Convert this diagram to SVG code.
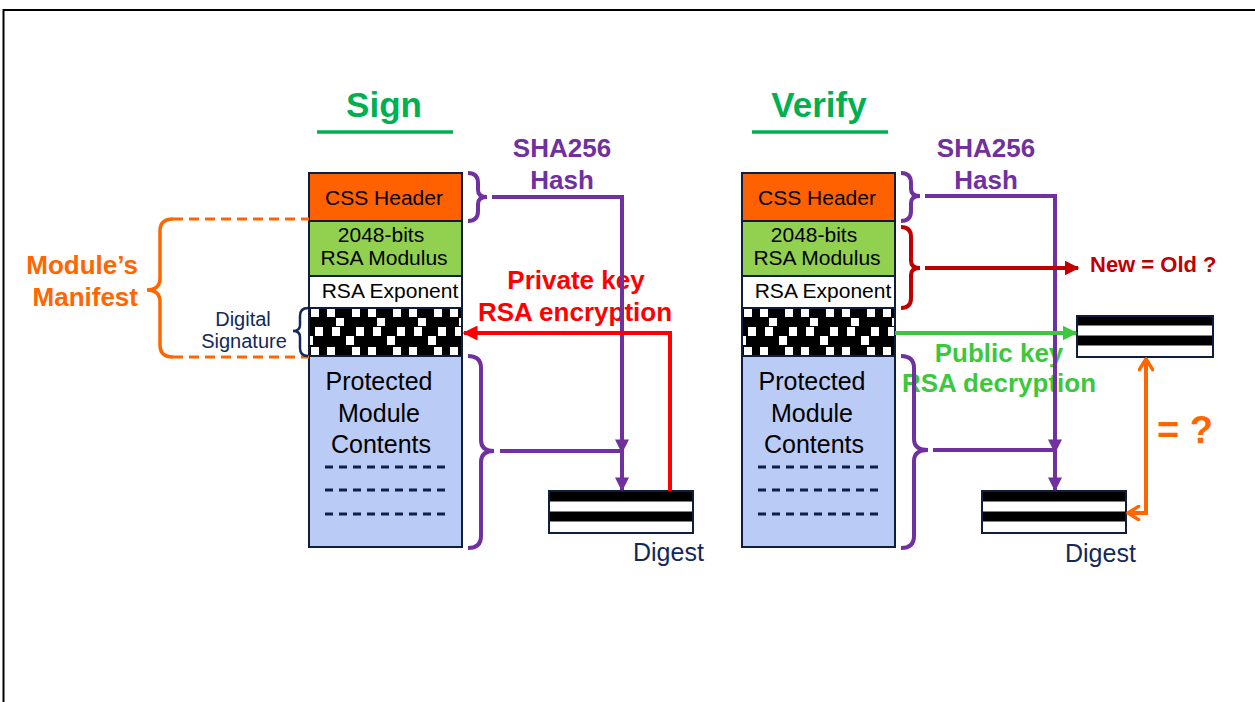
<svg xmlns="http://www.w3.org/2000/svg" width="1255" height="702" viewBox="0 0 1255 702">
  <style>
    text { font-family: "Liberation Sans", Arial, sans-serif; }
    .box { stroke: #0f1e3c; stroke-width: 2; }
    .lbl { font-size: 21px; fill: #000; text-anchor: middle; }
    .big { font-size: 25px; fill: #000; text-anchor: middle; }
    .bold { font-weight: bold; font-size: 26px; }
    .title { font-weight: bold; font-size: 35px; fill: #00b050; text-anchor: middle; }
    .uline { stroke: #00b050; stroke-width: 3.5; }
    .purple { fill: none; stroke: #7030a0; stroke-width: 4; }
    .dash { stroke: #0f1e4a; stroke-width: 3; stroke-dasharray: 8 6; }
    .navy { fill: #14285a; }
  </style>
  <defs>
    <!-- confetti fill for the signature blocks -->
    <pattern id="confetti" x="309" y="308" width="41" height="38" patternUnits="userSpaceOnUse">
      <rect width="41" height="38" fill="#000"/>
      <g fill="#fff">
        <rect x="2" y="1" width="8" height="8"/>
        <rect x="18" y="1" width="8" height="8"/>
        <rect x="27" y="10" width="8" height="8"/>
        <rect x="6" y="19" width="8" height="9"/>
        <rect x="23" y="19" width="8" height="9"/>
        <rect x="37" y="28" width="4" height="9"/>
        <rect x="0" y="28" width="4" height="9"/>
      </g>
    </pattern>
    <pattern id="confetti2" x="742" y="308" width="41" height="38" patternUnits="userSpaceOnUse" href="#confetti"/>
    <marker id="tri-purple" viewBox="0 0 10 10" refX="9" refY="5" markerWidth="14" markerHeight="14" markerUnits="userSpaceOnUse" orient="auto">
      <path d="M0 0 L10 5 L0 10 z" fill="#7030a0"/>
    </marker>
    <marker id="tri-red" viewBox="0 0 10 10" refX="9" refY="5" markerWidth="15" markerHeight="15" markerUnits="userSpaceOnUse" orient="auto">
      <path d="M0 0 L10 5 L0 10 z" fill="#ff0000"/>
    </marker>
    <marker id="tri-darkred" viewBox="0 0 10 10" refX="9" refY="5" markerWidth="15" markerHeight="15" markerUnits="userSpaceOnUse" orient="auto">
      <path d="M0 0 L10 5 L0 10 z" fill="#c00000"/>
    </marker>
    <marker id="tri-green" viewBox="0 0 10 10" refX="9" refY="5" markerWidth="15" markerHeight="15" markerUnits="userSpaceOnUse" orient="auto">
      <path d="M0 0 L10 5 L0 10 z" fill="#3cc83c"/>
    </marker>
    <marker id="open-orange" viewBox="0 0 12 12" refX="10" refY="6" markerWidth="16" markerHeight="16" markerUnits="userSpaceOnUse" orient="auto-start-reverse">
      <path d="M2 1 L10 6 L2 11" fill="none" stroke="#ff6600" stroke-width="2.6" stroke-linecap="round" stroke-linejoin="round"/>
    </marker>
  </defs>

  <rect width="1255" height="702" fill="#fff"/>
  <!-- frame edges -->
  <path d="M3.5 702 V10 H1255" fill="none" stroke="#000" stroke-width="2"/>

  <!-- Sign column -->
  <g id="sign-title">
    <text class="title" x="384" y="117">Sign</text>
    <line class="uline" x1="317" y1="132" x2="453" y2="132"/>
  </g>
  <g id="sign-css-header">
    <rect class="box" x="309" y="173" width="153" height="48" fill="#ff6100"/>
    <text class="lbl" x="384" y="205">CSS Header</text>
  </g>
  <g id="sign-modulus">
    <rect class="box" x="309" y="221" width="153" height="55" fill="#92d050"/>
    <text class="lbl" x="381" y="242">2048-bits</text>
    <text class="lbl" x="384" y="265">RSA Modulus</text>
  </g>
  <g id="sign-exponent">
    <rect class="box" x="309" y="276" width="153" height="32" fill="#fff"/>
    <text class="lbl" x="390" y="298">RSA Exponent</text>
  </g>
  <g id="sign-signature">
    <rect class="box" x="309" y="308" width="153" height="48" fill="url(#confetti)"/>
  </g>
  <g id="sign-contents">
    <rect class="box" x="309" y="356" width="153" height="191" fill="#bacbf5"/>
    <text class="big" x="379" y="390">Protected</text>
    <text class="big" x="379" y="422">Module</text>
    <text class="big" x="381" y="453">Contents</text>
    <line class="dash" x1="325" y1="467" x2="447" y2="467"/>
    <line class="dash" x1="325" y1="490" x2="447" y2="490"/>
    <line class="dash" x1="325" y1="514" x2="447" y2="514"/>
  </g>
  <g id="sign-digest">
    <rect x="549" y="491" width="144" height="42" fill="#fff"/>
    <rect x="549" y="491" width="144" height="10.5" fill="#000"/>
    <rect x="549" y="511.5" width="144" height="10" fill="#000"/>
    <rect class="box" x="549" y="491" width="144" height="42" fill="none" stroke-width="1.5"/>
    <text class="navy" x="633" y="561" font-size="25">Digest</text>
  </g>
  <g id="manifest-label">
    <text class="bold" x="138" y="274" fill="#ff6600" text-anchor="end">Module’s</text>
    <text class="bold" x="138" y="306" fill="#ff6600" text-anchor="end">Manifest</text>
    <path d="M173 219 Q160 219 160 231 L160 278 Q160 290 147 290 Q160 290 160 302 L160 345 Q160 357 173 357" fill="none" stroke="#ff6600" stroke-width="3.5"/>
    <line x1="173" y1="219" x2="309" y2="219" stroke="#ff6600" stroke-width="3" stroke-dasharray="10 6"/>
    <line x1="173" y1="357" x2="309" y2="357" stroke="#ff6600" stroke-width="3" stroke-dasharray="10 6"/>
  </g>
  <g id="signature-label">
    <text class="navy" x="243" y="326" font-size="20" text-anchor="middle">Digital</text>
    <text class="navy" x="244" y="348" font-size="20" text-anchor="middle">Signature</text>
    <path d="M308 308 Q300 308 300 316 L300 325 Q300 331 293 331 Q300 331 300 337 L300 348 Q300 356 308 356" fill="none" stroke="#14285a" stroke-width="2.5"/>
  </g>
  <g id="sign-hash-label">
    <text class="bold" x="562" y="157" fill="#7030a0" text-anchor="middle">SHA256</text>
    <text class="bold" x="562" y="189" fill="#7030a0" text-anchor="middle">Hash</text>
  </g>
  <g id="sign-encrypt-label">
    <text class="bold" x="576" y="289" fill="#ff0000" text-anchor="middle">Private key</text>
    <text class="bold" x="575" y="321" fill="#ff0000" text-anchor="middle">RSA encryption</text>
  </g>

  <!-- Verify column -->
  <g id="verify-title">
    <text class="title" x="819" y="117">Verify</text>
    <line class="uline" x1="752" y1="132" x2="888" y2="132"/>
  </g>
  <g id="verify-css-header">
    <rect class="box" x="742" y="173" width="153" height="48" fill="#ff6100"/>
    <text class="lbl" x="817" y="205">CSS Header</text>
  </g>
  <g id="verify-modulus">
    <rect class="box" x="742" y="221" width="153" height="55" fill="#92d050"/>
    <text class="lbl" x="814" y="242">2048-bits</text>
    <text class="lbl" x="817" y="265">RSA Modulus</text>
  </g>
  <g id="verify-exponent">
    <rect class="box" x="742" y="276" width="153" height="32" fill="#fff"/>
    <text class="lbl" x="823" y="298">RSA Exponent</text>
  </g>
  <g id="verify-signature">
    <rect class="box" x="742" y="308" width="153" height="48" fill="url(#confetti2)"/>
  </g>
  <g id="verify-contents">
    <rect class="box" x="742" y="356" width="153" height="191" fill="#bacbf5"/>
    <text class="big" x="812" y="390">Protected</text>
    <text class="big" x="812" y="422">Module</text>
    <text class="big" x="814" y="453">Contents</text>
    <line class="dash" x1="758" y1="467" x2="880" y2="467"/>
    <line class="dash" x1="758" y1="490" x2="880" y2="490"/>
    <line class="dash" x1="758" y1="514" x2="880" y2="514"/>
  </g>
  <g id="verify-digest">
    <rect x="982" y="491" width="144" height="42" fill="#fff"/>
    <rect x="982" y="491" width="144" height="10.5" fill="#000"/>
    <rect x="982" y="511.5" width="144" height="10" fill="#000"/>
    <rect class="box" x="982" y="491" width="144" height="42" fill="none" stroke-width="1.5"/>
    <text class="navy" x="1065" y="562" font-size="25">Digest</text>
  </g>
  <g id="decrypted-digest">
    <rect x="1077" y="316" width="136" height="41" fill="#fff"/>
    <rect x="1077" y="316" width="136" height="9.5" fill="#000"/>
    <rect x="1077" y="335.5" width="136" height="10" fill="#000"/>
    <rect class="box" x="1077" y="316" width="136" height="41" fill="none" stroke-width="1.5"/>
  </g>
  <g id="verify-hash-label">
    <text class="bold" x="986" y="157" fill="#7030a0" text-anchor="middle">SHA256</text>
    <text class="bold" x="986" y="189" fill="#7030a0" text-anchor="middle">Hash</text>
  </g>
  <g id="verify-decrypt-label">
    <text class="bold" x="999" y="362" fill="#3cc83c" text-anchor="middle">Public key</text>
    <text class="bold" x="999" y="392" fill="#3cc83c" text-anchor="middle">RSA decryption</text>
  </g>
  <g id="compare-key-label">
    <text x="1090" y="272" font-size="22" font-weight="bold" fill="#c00000">New = Old ?</text>
  </g>
  <g id="compare-digest-label">
    <text x="1157" y="443" font-size="38" font-weight="bold" fill="#ff6600">= ?</text>
  </g>

  <!-- connectors -->
  <g id="connectors">
    <!-- sign: hashing -->
    <path class="purple" d="M468 173 Q478 173 478 183 L478 190 Q478 197 487 197 Q478 197 478 204 L478 211 Q478 221 468 221"/>
    <path class="purple" d="M492 197 H622 V452" marker-end="url(#tri-purple)"/>
    <path class="purple" d="M468 356 Q481 356 481 368 L481 440 Q481 451 494 451 Q481 451 481 462 L481 536 Q481 548 468 548"/>
    <path class="purple" d="M500 451 H622 V490" marker-end="url(#tri-purple)"/>
    <!-- sign: encryption -->
    <path d="M670 491 V333 H464" fill="none" stroke="#ff0000" stroke-width="4" marker-end="url(#tri-red)"/>

    <!-- verify: hashing -->
    <path class="purple" d="M901 173 Q911 173 911 183 L911 189 Q911 196 920 196 Q911 196 911 203 L911 211 Q911 221 901 221"/>
    <path class="purple" d="M925 196 H1055 V452" marker-end="url(#tri-purple)"/>
    <path class="purple" d="M901 356 Q914 356 914 368 L914 439 Q914 450 928 450 Q914 450 914 461 L914 536 Q914 548 901 548"/>
    <path class="purple" d="M933 450 H1055 V490" marker-end="url(#tri-purple)"/>
    <!-- verify: key comparison -->
    <path d="M901 227 Q911 227 911 237 L911 261 Q911 268 920 268 Q911 268 911 275 L911 298 Q911 308 901 308" fill="none" stroke="#c00000" stroke-width="4"/>
    <path d="M925 268 H1078" fill="none" stroke="#c00000" stroke-width="4" marker-end="url(#tri-darkred)"/>
    <!-- verify: decryption -->
    <path d="M895 333 H1076" fill="none" stroke="#3cc83c" stroke-width="4" marker-end="url(#tri-green)"/>
    <!-- verify: digest comparison -->
    <path d="M1146 359 V513 H1128" fill="none" stroke="#ff6600" stroke-width="4" marker-start="url(#open-orange)" marker-end="url(#open-orange)"/>
  </g>
</svg>
